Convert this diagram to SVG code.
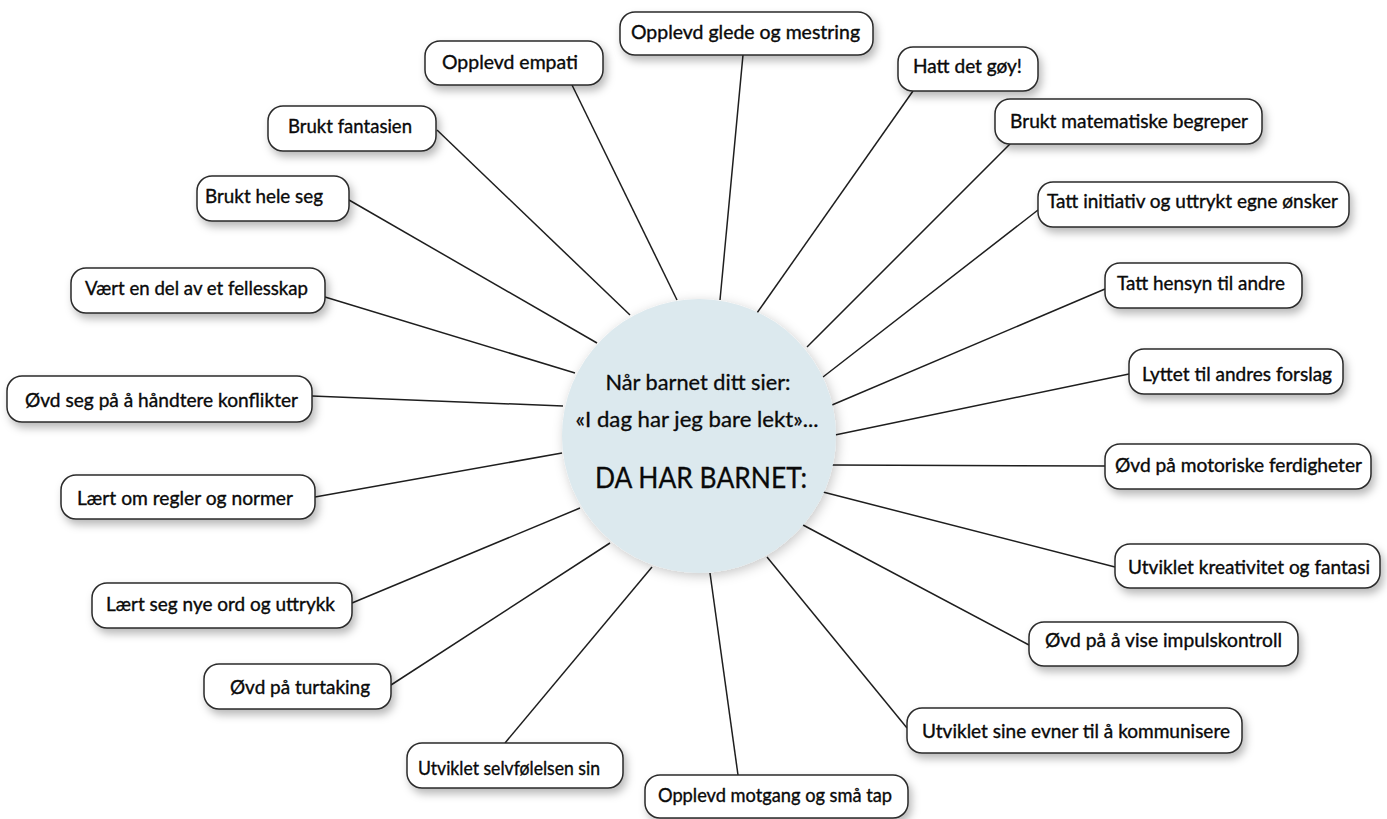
<svg xmlns="http://www.w3.org/2000/svg" width="1387" height="819" viewBox="0 0 1387 819">
<defs>
<filter id="sh" x="-20%" y="-40%" width="140%" height="200%">
<feDropShadow dx="3" dy="5" stdDeviation="4" flood-color="#000" flood-opacity="0.28"/>
</filter>
<filter id="glow" x="-20%" y="-20%" width="140%" height="140%">
<feDropShadow dx="2" dy="3" stdDeviation="6" flood-color="#000" flood-opacity="0.22"/>
</filter>
</defs>
<style>
.box{fill:#fff;stroke:#2a2a2a;stroke-width:1.5;filter:url(#sh)}
.lbl{font-family:Lato,"Open Sans","Liberation Sans",sans-serif;font-size:18.5px;fill:#0a0a0a;stroke:#0a0a0a;stroke-width:0.35}
.con line{stroke:#1e1e1e;stroke-width:1.5}
.ctr{font-family:Lato,"Open Sans","Liberation Sans",sans-serif;fill:#0a0a0a;stroke:#0a0a0a;stroke-width:0.3;text-anchor:middle}
</style>
<rect width="1387" height="819" fill="#fff"/>
<g id="connectors" class="con">
<line x1="572" y1="85" x2="677" y2="300"/>
<line x1="743" y1="55" x2="720" y2="300"/>
<line x1="913" y1="91" x2="757" y2="313"/>
<line x1="1010" y1="144" x2="807" y2="347"/>
<line x1="1038" y1="210" x2="823" y2="377"/>
<line x1="1105" y1="289" x2="832" y2="405"/>
<line x1="1129" y1="374" x2="835" y2="435"/>
<line x1="1105" y1="466" x2="832" y2="465"/>
<line x1="1115" y1="567" x2="823" y2="492"/>
<line x1="1029" y1="645" x2="803" y2="525"/>
<line x1="907" y1="728" x2="767" y2="557"/>
<line x1="738" y1="775" x2="710" y2="573"/>
<line x1="505" y1="743" x2="652" y2="567"/>
<line x1="391" y1="685" x2="610" y2="543"/>
<line x1="352" y1="603" x2="580" y2="508"/>
<line x1="315" y1="497" x2="562" y2="453"/>
<line x1="312" y1="396" x2="563" y2="406"/>
<line x1="325" y1="297" x2="575" y2="373"/>
<line x1="349" y1="200" x2="597" y2="343"/>
<line x1="437" y1="130" x2="630" y2="315"/>
</g>
<g id="center">
<circle cx="699" cy="436" r="137" fill="#dce9ee" filter="url(#glow)"/>
<text class="ctr" x="698" y="390" font-size="20.5" textLength="185" lengthAdjust="spacingAndGlyphs">Når barnet ditt sier:</text>
<text class="ctr" x="697" y="427" font-size="20.5" textLength="243" lengthAdjust="spacingAndGlyphs">«I dag har jeg bare lekt»...</text>
<text class="ctr" x="701" y="488" font-size="28" textLength="212" lengthAdjust="spacingAndGlyphs">DA HAR BARNET:</text>
</g>
<g id="n-empati"><rect class="box" x="425" y="41" width="178" height="44" rx="15"/><text class="lbl" x="442" y="69" textLength="136" lengthAdjust="spacingAndGlyphs">Opplevd empati</text></g>
<g id="n-glede"><rect class="box" x="620" y="12" width="253" height="43" rx="15"/><text class="lbl" x="631" y="39" textLength="229" lengthAdjust="spacingAndGlyphs">Opplevd glede og mestring</text></g>
<g id="n-goy"><rect class="box" x="898" y="47" width="140" height="44" rx="15"/><text class="lbl" x="913" y="73" textLength="109" lengthAdjust="spacingAndGlyphs">Hatt det gøy!</text></g>
<g id="n-matematiske"><rect class="box" x="995" y="99" width="267" height="45" rx="15"/><text class="lbl" x="1010" y="128" textLength="238" lengthAdjust="spacingAndGlyphs">Brukt matematiske begreper</text></g>
<g id="n-initiativ"><rect class="box" x="1038" y="182" width="311" height="45" rx="15"/><text class="lbl" x="1047" y="208" textLength="291" lengthAdjust="spacingAndGlyphs">Tatt initiativ og uttrykt egne ønsker</text></g>
<g id="n-hensyn"><rect class="box" x="1105" y="263" width="197" height="45" rx="15"/><text class="lbl" x="1117" y="290" textLength="168" lengthAdjust="spacingAndGlyphs">Tatt hensyn til andre</text></g>
<g id="n-forslag"><rect class="box" x="1129" y="349" width="214" height="45" rx="15"/><text class="lbl" x="1142" y="381" textLength="190" lengthAdjust="spacingAndGlyphs">Lyttet til andres forslag</text></g>
<g id="n-motoriske"><rect class="box" x="1105" y="444" width="266" height="45" rx="15"/><text class="lbl" x="1115" y="472" textLength="247" lengthAdjust="spacingAndGlyphs">Øvd på motoriske ferdigheter</text></g>
<g id="n-kreativitet"><rect class="box" x="1115" y="544" width="265" height="44" rx="15"/><text class="lbl" x="1128" y="574" textLength="242" lengthAdjust="spacingAndGlyphs">Utviklet kreativitet og fantasi</text></g>
<g id="n-impulskontroll"><rect class="box" x="1029" y="622" width="269" height="44" rx="15"/><text class="lbl" x="1045" y="647" textLength="237" lengthAdjust="spacingAndGlyphs">Øvd på å vise impulskontroll</text></g>
<g id="n-kommunisere"><rect class="box" x="907" y="708" width="335" height="45" rx="15"/><text class="lbl" x="922" y="738" textLength="308" lengthAdjust="spacingAndGlyphs">Utviklet sine evner til å kommunisere</text></g>
<g id="n-motgang"><rect class="box" x="645" y="775" width="263" height="43" rx="15"/><text class="lbl" x="658" y="802" textLength="234" lengthAdjust="spacingAndGlyphs">Opplevd motgang og små tap</text></g>
<g id="n-selvfolelsen"><rect class="box" x="407" y="743" width="216" height="45" rx="15"/><text class="lbl" x="418" y="775" textLength="182" lengthAdjust="spacingAndGlyphs">Utviklet selvfølelsen sin</text></g>
<g id="n-turtaking"><rect class="box" x="204" y="664" width="187" height="45" rx="15"/><text class="lbl" x="230" y="694" textLength="140" lengthAdjust="spacingAndGlyphs">Øvd på turtaking</text></g>
<g id="n-nyeord"><rect class="box" x="92" y="583" width="260" height="45" rx="15"/><text class="lbl" x="106" y="611" textLength="229" lengthAdjust="spacingAndGlyphs">Lært seg nye ord og uttrykk</text></g>
<g id="n-regler"><rect class="box" x="61" y="475" width="254" height="44" rx="15"/><text class="lbl" x="77" y="505" textLength="216" lengthAdjust="spacingAndGlyphs">Lært om regler og normer</text></g>
<g id="n-konflikter"><rect class="box" x="7" y="376" width="305" height="46" rx="15"/><text class="lbl" x="25" y="407" textLength="273" lengthAdjust="spacingAndGlyphs">Øvd seg på å håndtere konflikter</text></g>
<g id="n-fellesskap"><rect class="box" x="71" y="268" width="254" height="45" rx="15"/><text class="lbl" x="85" y="295" textLength="223" lengthAdjust="spacingAndGlyphs">Vært en del av et fellesskap</text></g>
<g id="n-heleseg"><rect class="box" x="197" y="176" width="152" height="45" rx="15"/><text class="lbl" x="205" y="203" textLength="118" lengthAdjust="spacingAndGlyphs">Brukt hele seg</text></g>
<g id="n-fantasien"><rect class="box" x="268" y="106" width="168" height="45" rx="15"/><text class="lbl" x="288" y="133" textLength="124" lengthAdjust="spacingAndGlyphs">Brukt fantasien</text></g>
</svg>
